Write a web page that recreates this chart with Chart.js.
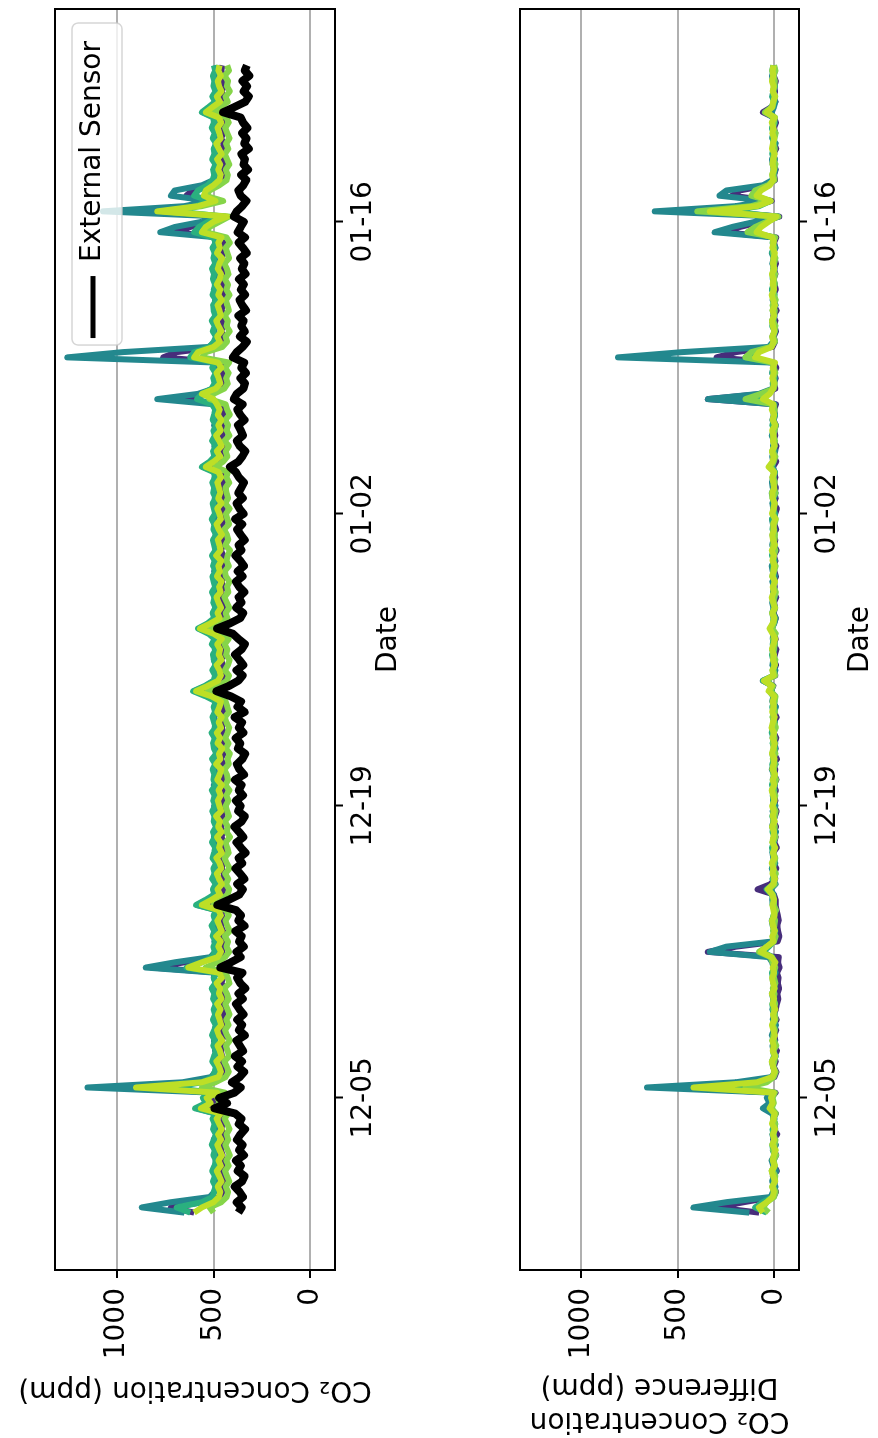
<!DOCTYPE html>
<html>
<head>
<meta charset="utf-8">
<script src="https://cdn.jsdelivr.net/npm/chart.js@4.4.0/dist/chart.umd.min.js"></script>
<style>
  html, body { margin: 0; padding: 0; background: #fff; overflow: hidden; }
  body { width: 878px; height: 1438px; position: relative; }
  /* figure is laid out landscape, then turned a quarter turn to the left */
  #fig {
    position: absolute; left: 0; top: 0;
    width: 1438px; height: 878px;
    background: #fff;
    transform-origin: 0 0;
    transform: translateY(1438px) rotate(-90deg);
  }
  #fig canvas { position: absolute; left: 0; }
</style>
</head>
<body>
<div id="fig">
  <canvas id="concChart" width="1438" height="440" style="top:0px"></canvas>
  <canvas id="diffChart" width="1438" height="438" style="top:440px"></canvas>
</div>
<script>
// sample times: days relative to 12-05, one reading every 6 hours
const startDay = -5.5;
const stepDays = 0.25;

const dateTickDays = [0, 14, 28, 42];
const dateTickLabels = ['12-05', '12-19', '01-02', '01-16'];
const ppmTicks = [0, 500, 1000];

// CO2 concentration (ppm)
const externalCO2 = [
  372, 355, 380, 348, 366, 391, 352, 340, 375, 359, 384, 343, 368, 350, 379, 361, 337, 370, 356, 388,
  495, 430, 470, 392, 360, 405, 365, 342, 376, 353, 389, 347, 364, 381, 338, 369, 352, 377, 345, 366,
  384, 349, 371, 336, 362, 378, 351, 465, 410, 360, 381, 344, 368, 355, 387, 340, 372, 358, 383, 480,
  420, 366, 349, 378, 341, 363, 386, 352, 370, 335, 359, 381, 346, 368, 392, 355, 339, 373, 360, 384,
  348, 370, 355, 389, 342, 366, 379, 351, 337, 374, 362, 385, 346, 369, 353, 391, 340, 376, 358, 410,
  485, 420, 372, 350, 381, 346, 367, 389, 355, 338, 371, 400, 482, 415, 362, 347, 383, 356, 370, 341,
  368, 384, 350, 375, 343, 362, 387, 356, 371, 339, 360, 378, 352, 388, 345, 366, 381, 349, 372, 357,
  343, 369, 385, 415, 372, 351, 336, 365, 380, 348, 359, 374, 340, 362, 377, 350, 395, 380, 346, 338,
  361, 333, 356, 342, 400, 380, 350, 328, 364, 339, 357, 345, 371, 332, 352, 366, 337, 359, 343, 368,
  335, 354, 341, 362, 329, 348, 370, 338, 375, 360, 344, 395, 380, 352, 330, 360, 372, 346, 331, 357,
  322, 345, 338, 356, 318, 341, 330, 352, 325, 347, 360, 450, 392, 336, 318, 344, 327, 351, 315, 339,
  328
];
const sensor1CO2 = [
  600, 720, 560, 470, 452, 458, 449, 461, 455, 447, 459, 453, 462, 450, 457, 446, 460, 454, 448, 456,
  540, 490, 520, 465, 960, 600, 470, 453, 459, 448, 456, 462, 451, 457, 445, 460, 452, 458, 449, 455,
  461, 450, 457, 446, 459, 452, 463, 820, 650, 475, 454, 460, 448, 456, 451, 462, 447, 458, 453, 555,
  500, 457, 449, 460, 452, 446, 458, 455, 461, 450, 456, 447, 459, 453, 462, 449, 455, 451, 460, 448,
  457, 452, 461, 446, 455, 459, 450, 463, 448, 456, 453, 460, 447, 458, 451, 462, 449, 455, 452, 490,
  575, 510, 460, 448, 456, 451, 462, 447, 457, 453, 449, 475, 550, 495, 455, 460, 449, 456, 452, 461,
  450, 458, 447, 461, 453, 456, 449, 462, 451, 457, 446, 459, 454, 448, 460, 452, 457, 450, 463, 455,
  448, 457, 452, 525, 475, 451, 458, 446, 460, 453, 449, 457, 462, 450, 455, 448, 720, 530, 465, 452,
  458, 449, 461, 453, 760, 690, 480, 455, 448, 460, 451, 457, 446, 459, 453, 462, 450, 456, 449, 458,
  452, 460, 447, 456, 451, 458, 449, 461, 700, 620, 520, 440, 900, 600, 480, 640, 610, 510, 465, 451,
  457, 448, 460, 452, 455, 447, 461, 450, 458, 453, 449, 525, 480, 456, 450, 459, 446, 457, 452, 460,
  454
];
const sensor2CO2 = [
  650, 870, 720, 520, 495, 488, 492, 481, 497, 486, 490, 479, 494, 487, 499, 483, 491, 485, 496, 489,
  585, 530, 550, 505, 1150, 660, 512, 490, 484, 495, 480, 492, 487, 498, 482, 491, 486, 494, 479, 490,
  488, 495, 481, 493, 486, 499, 490, 850, 700, 515, 492, 484, 496, 487, 480, 493, 489, 497, 483, 585,
  530, 494, 487, 482, 496, 489, 493, 480, 495, 486, 491, 484, 498, 488, 481, 494, 490, 485, 497, 483,
  492, 486, 499, 481, 490, 495, 484, 493, 487, 480, 496, 489, 483, 494, 488, 498, 482, 491, 486, 520,
  600, 540, 495, 484, 491, 487, 498, 481, 493, 489, 485, 510, 575, 520, 490, 496, 483, 492, 487, 494,
  486, 493, 481, 497, 489, 484, 495, 490, 482, 496, 488, 493, 485, 499, 483, 491, 487, 494, 480, 492,
  489, 495, 484, 555, 505, 490, 483, 496, 488, 492, 485, 497, 481, 494, 489, 498, 790, 580, 500, 487,
  493, 486, 495, 482, 1255, 970, 525, 491, 484, 497, 489, 493, 480, 495, 488, 492, 485, 498, 483, 491,
  487, 494, 482, 496, 489, 485, 492, 481, 775, 700, 560, 450, 1070, 650, 520, 720, 700, 560, 500, 488,
  493, 485, 497, 482, 491, 488, 495, 483, 490, 486, 494, 555, 505, 489, 496, 481, 492, 487, 495, 484,
  490
];
const sensor3CO2 = [
  620, 690, 560, 505, 498, 489, 503, 492, 507, 495, 486, 500, 493, 509, 497, 488, 502, 494, 505, 490,
  595, 540, 555, 510, 720, 560, 503, 494, 488, 506, 497, 485, 501, 492, 508, 496, 489, 503, 491, 499,
  487, 502, 495, 509, 490, 498, 484, 640, 560, 507, 493, 500, 488, 504, 496, 510, 491, 499, 486, 590,
  540, 496, 503, 489, 507, 494, 500, 486, 505, 497, 491, 508, 493, 502, 487, 499, 495, 506, 490, 501,
  494, 509, 488, 500, 496, 504, 491, 507, 485, 498, 502, 493, 510, 489, 497, 505, 492, 499, 487, 540,
  605, 545, 500, 492, 506, 489, 498, 503, 487, 509, 494, 525, 580, 530, 497, 504, 490, 501, 495, 508,
  491, 499, 505, 487, 502, 494, 508, 490, 497, 503, 486, 500, 495, 509, 492, 498, 504, 489, 501, 496,
  506, 490, 499, 560, 520, 495, 502, 488, 507, 493, 500, 485, 504, 497, 491, 508, 585, 560, 510, 494,
  501, 489, 506, 495, 620, 600, 520, 498, 487, 504, 493, 509, 490, 499, 502, 486, 505, 496, 492, 503,
  497, 508, 491, 500, 494, 505, 488, 502, 600, 575, 530, 450, 700, 590, 520, 600, 580, 530, 505, 496,
  502, 490, 507, 495, 499, 486, 504, 493, 509, 497, 501, 560, 525, 492, 506, 489, 500, 495, 503, 491,
  498
];
const sensor4CO2 = [
  500, 520, 460, 432, 425, 437, 419, 430, 441, 422, 434, 416, 428, 439, 424, 433, 418, 429, 443, 426,
  500, 465, 480, 440, 560, 490, 438, 421, 432, 444, 419, 427, 436, 415, 430, 441, 423, 434, 417, 428,
  439, 422, 431, 445, 418, 426, 437, 540, 480, 440, 420, 433, 425, 442, 416, 429, 438, 421, 435, 500,
  460, 427, 419, 436, 424, 440, 417, 431, 443, 422, 429, 438, 415, 433, 426, 441, 420, 430, 437, 423,
  434, 418, 439, 425, 431, 444, 421, 428, 416, 436, 423, 440, 427, 419, 433, 442, 420, 429, 437, 460,
  530, 470, 432, 420, 441, 426, 417, 435, 429, 443, 422, 455, 515, 465, 428, 437, 419, 431, 444, 424,
  430, 418, 436, 442, 421, 433, 427, 415, 439, 424, 431, 445, 420, 428, 436, 417, 440, 425, 432, 438,
  419, 434, 426, 490, 450, 429, 437, 421, 443, 418, 432, 425, 440, 416, 430, 438, 520, 500, 445, 427,
  435, 422, 440, 419, 560, 540, 455, 430, 438, 417, 433, 426, 442, 421, 429, 436, 418, 434, 425, 441,
  423, 431, 444, 420, 428, 437, 416, 433, 540, 520, 470, 420, 760, 560, 450, 540, 520, 470, 432, 426,
  437, 419, 430, 442, 424, 435, 418, 429, 440, 422, 433, 500, 465, 427, 438, 416, 431, 425, 443, 420,
  430
];
const sensor5CO2 = [
  600, 560, 500, 472, 465, 478, 459, 470, 483, 462, 474, 456, 469, 480, 461, 476, 458, 471, 484, 463,
  565, 515, 535, 480, 900, 560, 475, 462, 471, 485, 458, 467, 479, 455, 473, 482, 460, 469, 477, 464,
  481, 459, 472, 466, 484, 457, 470, 630, 560, 478, 461, 475, 463, 486, 458, 469, 480, 462, 474, 560,
  510, 467, 479, 456, 472, 483, 460, 468, 485, 457, 471, 464, 482, 459, 476, 466, 487, 461, 470, 478,
  463, 474, 457, 481, 468, 460, 486, 465, 472, 455, 479, 466, 483, 461, 473, 458, 480, 469, 462, 510,
  590, 530, 476, 462, 470, 484, 459, 473, 466, 481, 457, 500, 570, 515, 468, 479, 461, 474, 485, 463,
  471, 458, 482, 467, 475, 460, 486, 464, 470, 478, 456, 473, 484, 462, 469, 481, 459, 476, 465, 472,
  480, 461, 474, 540, 500, 466, 483, 458, 471, 487, 463, 475, 460, 478, 468, 482, 500, 560, 490, 465,
  473, 484, 460, 477, 600, 580, 500, 467, 481, 459, 474, 486, 462, 470, 479, 457, 476, 465, 483, 468,
  461, 478, 470, 456, 482, 467, 475, 459, 560, 540, 500, 430, 790, 580, 490, 550, 540, 500, 470, 463,
  476, 465, 481, 458, 472, 486, 463, 470, 479, 460, 474, 540, 505, 467, 483, 459, 471, 478, 462, 475,
  469
];

// CO2 concentration difference (ppm)
const sensor1Diff = [
  80, 300, 160, 5, -8, 4, -3, 9, -12, 2, 6, -9, 1, -5, 7, -14, 3, -2, 8, -7,
  30, 10, 20, -5, 500, 150, 0, -10, 4, -6, 2, -13, 5, -4, 1, -9, 6, -11, 3, -7,
  -12, -20, -15, -24, -17, -21, -13, -26, -18, -22, 345, 200, -16, -25, -19, -14, -22, -17, -11, -6,
  -6, 3, 88, 20, -4, 2, -9, 5, -3, 7, -12, 1, -6, 4, -8, 6, -2, -11, 3, -5,
  2, -7, 5, -10, 1, -4, 7, -13, 3, -6, 0, -9, 4, -2, 6, -11, 2, -5, 8, -3,
  20, 6, 60, -4, 3, -8, 5, -2, -10, 4, -6, 1, 15, 3, -7, 5, -3, 2, -9, 6,
  -2, 4, -8, 1, 6, -5, 3, -11, 2, -4, 7, -9, 0, 5, -3, -12, 4, -6, 1, -7,
  3, -5, 2, 8, -9, 4, -2, -10, 6, -4, 1, -7, 5, -3, 2, -8, 345, 60, -4, 3,
  -6, 2, -9, 5, 300, 200, 10, -3, 4, -8, 1, -5, 6, -11, 3, -2, 5, -7, 0, 4,
  -5, 3, -8, 1, 6, -4, 2, -9, 260, 180, 70, -25, 300, 120, 15, 220, 180, 40, -3, 2,
  -6, 4, -2, 7, -9, 1, 5, -4, 3, -8, 2, 60, 15, -5, 6, -3, 1, -7, 4, -2,
  3
];
const sensor2Diff = [
  130, 420, 250, 20, 8, -5, 12, 3, -9, 6, 15, -2, 9, -7, 4, 11, -4, 7, 0, 13,
  60, 25, 40, 10, 660, 200, 15, -3, 8, 12, -6, 5, 10, -1, 14, 3, -8, 9, 2, 11,
  -4, 7, 13, -2, 6, 10, -7, 4, 12, 30, 335, 250, 10, 3, -5, 9, 14, 1, -3, 8,
  12, 5, 20, -6, 10, 2, 14, -4, 7, 11, -1, 9, 3, -8, 13, 6, 0, 10, -5, 8,
  4, 12, -3, 9, 1, 14, -6, 7, 11, 2, -4, 10, 5, 13, -2, 8, 3, -7, 12, 6,
  15, 10, 45, 4, -5, 11, 7, 2, 13, -3, 9, 6, 14, 1, -6, 10, 5, 12, -2, 8,
  3, 11, -4, 9, 14, 0, 7, -5, 12, 5, 10, -1, 8, 13, -3, 6, 11, 2, -6, 9,
  13, 4, -2, 10, 6, 12, -4, 8, 1, 14, 5, -7, 11, 3, 9, -1, 345, 80, 10, 4,
  -3, 12, 6, 9, 810, 480, 30, 7, 11, -4, 5, 13, 0, 8, -6, 10, 3, 12, -2, 9,
  6, -1, 11, 4, 14, -5, 8, 2, 310, 220, 100, -20, 620, 200, 40, 285, 250, 60, 10, 3,
  -4, 9, 13, 1, 7, -6, 12, 5, 10, -2, 8, 14, 3, -5, 11, 6, -1, 9, 13, 2,
  7
];
const sensor3Diff = [
  40, 100, 60, 8, 2, 11, -3, 6, 14, 0, 9, -5, 7, 12, -2, 5, 10, -4, 8, 3,
  20, 8, 15, 4, 250, 70, 9, -1, 6, 13, 2, 8, -4, 11, 5, 0, 10, 3, -2, 7,
  12, 1, 9, 4, -3, 8, 13, 0, 6, 11, 60, 30, 5, 9, -2, 7, 12, 3, 0, 10,
  6, 14, 40, 2, 9, -4, 11, 5, 0, 8, 13, 3, -2, 10, 6, 1, 12, -3, 7, 4,
  9, 0, 13, 5, -2, 8, 11, 3, 6, -4, 10, 2, 14, 7, -1, 9, 4, 12, 0, 6,
  25, 12, 60, 3, 10, -3, 7, 13, 1, 9, 4, -2, 20, 8, 5, 12, -1, 6, 10, 2,
  7, -2, 11, 4, 9, 0, 13, 5, -3, 8, 2, 10, 6, 12, -1, 7, 3, 9, 14, 1,
  5, 10, -2, 25, 8, 3, 12, -1, 6, 9, 2, 11, 4, -3, 8, 13, 100, 30, 6, 9,
  2, 11, 5, 8, 150, 110, 20, 4, 9, -2, 12, 6, 1, 10, 3, 7, -1, 13, 5, 8,
  10, 3, 7, -1, 12, 5, 9, 2, 120, 90, 40, -15, 250, 80, 20, 110, 90, 30, 6, 11,
  4, 9, -1, 12, 6, 2, 10, 5, 13, 0, 8, 45, 15, 3, 11, 7, -2, 9, 4, 12,
  6
];
const sensor4Diff = [
  30, 60, 40, 3, -6, 8, 1, -4, 10, -2, 5, -8, 7, 0, -5, 9, 2, -3, 6, -7,
  15, 4, 10, -2, 150, 40, 4, -6, 8, 1, -4, 7, -9, 3, 6, -2, 9, -5, 0, 5,
  -3, 6, 0, 9, -5, 2, 7, -4, 10, 20, 80, 40, 3, -6, 8, 1, -3, 6, -8, 4,
  2, 9, 30, -1, 5, -7, 8, 3, -4, 6, 1, 10, -5, 4, -2, 7, 0, -6, 9, 3,
  -4, 7, 1, -8, 6, 3, -2, 9, -5, 4, 8, -1, 5, -7, 2, 10, -3, 6, 0, -5,
  20, 8, 50, -3, 6, 1, -5, 9, 3, -2, 7, -6, 12, 4, -1, 8, -4, 5, 2, -7,
  5, -1, 8, 2, -6, 7, 3, -4, 9, 0, -3, 6, 1, -7, 8, 4, -2, 10, -5, 3,
  -2, 6, 1, 20, 4, -5, 9, 2, -3, 7, 0, -6, 8, 3, -1, 5, 150, 70, 4, -2,
  7, -4, 3, 9, 150, 120, 20, -3, 6, 1, -5, 8, 2, -2, 10, -6, 4, 7, -1, 3,
  -3, 8, 2, -5, 6, 1, 9, -4, 140, 100, 40, -20, 400, 120, 25, 120, 100, 35, 0, 6,
  2, -5, 8, 3, -2, 7, 0, -6, 9, 4, -3, 50, 10, 5, -4, 8, 1, -2, 6, -5,
  2
];
const sensor5Diff = [
  60, 80, 40, 10, 3, 12, -4, 7, 15, -1, 9, 4, -6, 11, 2, 8, -3, 13, 5, 0,
  25, 10, 18, 5, 420, 90, 12, 0, 7, 14, -3, 9, 4, 11, -2, 6, 13, 1, 8, -4,
  10, 3, 14, -1, 7, 12, 2, 9, -5, 15, 70, 40, 6, 11, -2, 8, 13, 0, 5, 10,
  3, 12, 35, 7, -3, 10, 5, 14, 1, 8, -4, 11, 6, 2, 13, -1, 9, 4, 12, 0,
  7, 14, 2, 9, -3, 11, 5, 0, 13, 6, -2, 10, 3, 15, 8, -1, 12, 4, 9, 1,
  30, 14, 55, 5, 11, -2, 8, 3, 13, 6, -4, 10, 25, 9, 2, 12, -1, 7, 14, 4,
  9, -3, 12, 6, 1, 10, 4, 14, -2, 8, 11, 3, 7, -4, 13, 5, 0, 9, 12, 2,
  6, 11, 2, 30, 10, 4, 13, -1, 8, 5, 12, -3, 9, 2, 14, 6, 60, 25, 8, 3,
  11, 4, 9, -2, 100, 80, 15, 5, 12, 0, 8, 13, 3, 10, -3, 7, 14, 2, 9, 6,
  13, 1, 8, 5, -2, 11, 4, 10, 93, 70, 30, -10, 335, 90, 20, 93, 70, 25, 7, 12,
  3, 10, 6, -1, 13, 8, 2, 11, 5, 14, 0, 40, 12, 7, -2, 9, 4, 13, 6, 10,
  5
];

const sensorNames = ['Sensor 1', 'Sensor 2', 'Sensor 3', 'Sensor 4', 'Sensor 5'];
const sensorColors = ['#472d7b', '#23888e', '#2ab07f', '#86d549', '#bddf26'];

const FONT = '"DejaVu Sans", Verdana, sans-serif';
const FS = 28;

function toPoints(values) {
  return values.map((v, i) => ({ x: startDay + i * stepDays, y: v }));
}

function lineSet(label, values, color, width) {
  return {
    label: label,
    data: toPoints(values),
    borderColor: color,
    backgroundColor: color,
    borderWidth: width,
    borderJoinStyle: 'round',
    pointRadius: 0,
    tension: 0,
    fill: false
  };
}

// black frame around the plotting area
const framePlugin = {
  id: 'frame',
  afterDatasetsDraw(chart) {
    const a = chart.chartArea;
    const ctx = chart.ctx;
    ctx.save();
    ctx.strokeStyle = '#000';
    ctx.lineWidth = 2;
    ctx.strokeRect(a.left, a.top, a.right - a.left, a.bottom - a.top);
    ctx.restore();
  }
};

// legend box inside the upper right corner (only the external sensor is labelled)
const cornerLegend = {
  id: 'cornerLegend',
  afterDraw(chart) {
    const ds = chart.data.datasets.find(d => d.showInLegend);
    if (!ds) return;
    const a = chart.chartArea;
    const ctx = chart.ctx;
    ctx.save();
    ctx.font = FS + 'px ' + FONT;
    const tw = ctx.measureText(ds.label).width;
    const h = 50, right = a.right - 14, top = a.top + 17;
    const textX = right - 18 - tw;
    const lineEnd = textX - 14, lineStart = lineEnd - 62;
    const left = lineStart - 7;
    const r = 6;
    ctx.beginPath();
    ctx.moveTo(left + r, top);
    ctx.arcTo(right, top, right, top + h, r);
    ctx.arcTo(right, top + h, left, top + h, r);
    ctx.arcTo(left, top + h, left, top, r);
    ctx.arcTo(left, top, right, top, r);
    ctx.closePath();
    ctx.fillStyle = 'rgba(255,255,255,0.8)';
    ctx.fill();
    ctx.strokeStyle = 'rgba(204,204,204,0.8)';
    ctx.lineWidth = 1.5;
    ctx.stroke();
    const cy = top + 21;
    ctx.beginPath();
    ctx.moveTo(lineStart, cy);
    ctx.lineTo(lineEnd, cy);
    ctx.strokeStyle = ds.borderColor;
    ctx.lineWidth = 5;
    ctx.stroke();
    ctx.fillStyle = '#000';
    ctx.textBaseline = 'middle';
    ctx.textAlign = 'left';
    ctx.fillText(ds.label, textX, cy);
    ctx.restore();
  }
};

function makePanel(canvasId, datasets, cfg) {
  return new Chart(document.getElementById(canvasId), {
    type: 'line',
    // Chart.js paints the first dataset on top, matplotlib the last one
    data: { datasets: datasets.slice().reverse() },
    options: {
      responsive: false,
      animation: false,
      devicePixelRatio: 1,
      layout: { padding: { top: cfg.areaTop, right: 9, left: 0, bottom: 0 } },
      plugins: { legend: { display: false }, tooltip: { enabled: false } },
      scales: {
        x: {
          type: 'linear',
          min: -8.25,
          max: 52.2,
          afterFit: s => { s.height = cfg.xAxisHeight; },
          afterBuildTicks: s => { s.ticks = dateTickDays.map(v => ({ value: v })); },
          grid: { drawOnChartArea: false, tickLength: 8, tickColor: '#000', tickWidth: 2 },
          border: { display: false },
          ticks: {
            autoSkip: false, maxRotation: 0, padding: 4, color: '#000',
            font: { family: FONT, size: FS },
            callback: v => dateTickLabels[dateTickDays.indexOf(v)]
          },
          title: {
            display: true, text: 'Date', color: '#000',
            font: { family: FONT, size: FS },
            padding: { top: 0, bottom: cfg.dateTitlePad }
          }
        },
        y: {
          min: -127,
          max: 1318,
          afterFit: s => { s.width = 168; },
          afterBuildTicks: s => { s.ticks = ppmTicks.map(v => ({ value: v })); },
          grid: { color: '#b0b0b0', lineWidth: 2, tickLength: 8, tickColor: '#000', tickWidth: 2 },
          border: { display: false },
          ticks: {
            padding: 10, color: '#000', font: { family: FONT, size: FS },
            callback: v => String(v)
          },
          title: {
            display: true, text: cfg.yTitle, color: '#000',
            font: { family: FONT, size: FS },
            padding: { top: cfg.yTitlePad, bottom: 0 }
          }
        }
      }
    },
    plugins: cfg.plugins
  });
}

const concSets = [
  lineSet(sensorNames[0], sensor1CO2, sensorColors[0], 6),
  lineSet(sensorNames[1], sensor2CO2, sensorColors[1], 6),
  lineSet(sensorNames[2], sensor3CO2, sensorColors[2], 6),
  lineSet(sensorNames[3], sensor4CO2, sensorColors[3], 6),
  lineSet(sensorNames[4], sensor5CO2, sensorColors[4], 6),
  Object.assign(lineSet('External Sensor', externalCO2, '#000000', 8), { showInLegend: true })
];

const diffSets = [
  lineSet(sensorNames[0], sensor1Diff, sensorColors[0], 6),
  lineSet(sensorNames[1], sensor2Diff, sensorColors[1], 6),
  lineSet(sensorNames[2], sensor3Diff, sensorColors[2], 6),
  lineSet(sensorNames[3], sensor4Diff, sensorColors[3], 6),
  lineSet(sensorNames[4], sensor5Diff, sensorColors[4], 6)
];

makePanel('concChart', concSets, {
  areaTop: 55, xAxisHeight: 105, dateTitlePad: 34,
  yTitle: 'CO₂ Concentration (ppm)', yTitlePad: 32,
  plugins: [framePlugin, cornerLegend]
});

makePanel('diffChart', diffSets, {
  areaTop: 80, xAxisHeight: 79, dateTitlePad: 0,
  yTitle: ['CO₂ Concentration', 'Difference (ppm)'], yTitlePad: 1,
  plugins: [framePlugin]
});
</script>
</body>
</html>
